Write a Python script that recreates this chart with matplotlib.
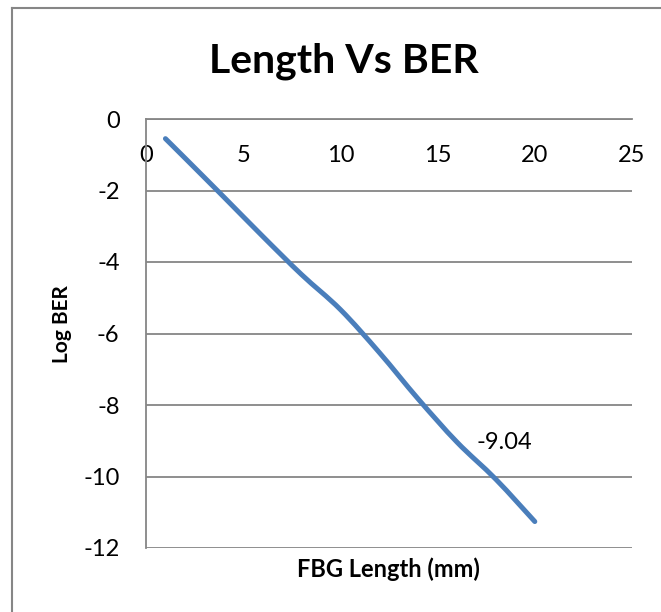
import numpy as np
import matplotlib.pyplot as plt
from matplotlib.lines import Line2D
from matplotlib.path import Path
from matplotlib.patches import PathPatch

# FBG length (mm) vs log BER
length_mm = [1, 2, 4, 6, 8, 10, 12, 14, 16, 18, 20]
log_ber = [-0.55, -1.09, -2.18, -3.28, -4.35, -5.33, -6.53, -7.83, -9.04, -10.08, -11.26]
label_idx = 8  # the point that carries the "-9.04" data label

x_ticks = [0, 5, 10, 15, 20, 25]
y_ticks = [0, -2, -4, -6, -8, -10, -12]

plt.rcParams['font.family'] = ['Lato', 'DejaVu Sans']

fig = plt.figure(figsize=(6.61, 6.12), dpi=100)
ax = fig.add_axes([146 / 661, 1 - 548 / 612, (632 - 146) / 661, (548 - 119) / 612])

grid_col = '#868686'


def smooth_path(xs, ys):
    # Excel style "smoothed line": cubic bezier through every point
    p = np.column_stack([xs, ys]).astype(float)
    n = len(p)
    verts = [p[0]]
    codes = [Path.MOVETO]
    for i in range(n - 1):
        p0 = p[i - 1] if i > 0 else p[i]
        p3 = p[i + 2] if i + 2 < n else p[i + 1]
        c1 = p[i] + (p[i + 1] - p0) / 6.0
        c2 = p[i + 1] - (p3 - p[i]) / 6.0
        verts += [c1, c2, p[i + 1]]
        codes += [Path.CURVE4] * 3
    return Path(verts, codes)


ax.add_patch(PathPatch(smooth_path(length_mm, log_ber), facecolor='none', edgecolor='#4A7EBB',
                       linewidth=3.6, capstyle='round', joinstyle='round', zorder=3))

ax.set_xlim(0, 25)
ax.set_ylim(-12, 0)
ax.set_xticks(x_ticks)
ax.set_yticks(y_ticks)
ax.set_yticklabels([str(v) for v in y_ticks])

# horizontal grid lines
for v in y_ticks:
    ax.axhline(v, color=grid_col, linewidth=1.3, zorder=1)

for s in ['top', 'right']:
    ax.spines[s].set_visible(False)
ax.spines['bottom'].set_position(('data', 0))
ax.spines['bottom'].set_color(grid_col)
ax.spines['bottom'].set_linewidth(1.3)
ax.spines['left'].set_color(grid_col)
ax.spines['left'].set_linewidth(1.3)

ax.tick_params(axis='x', length=0, pad=19, labelsize=17)
ax.tick_params(axis='y', length=0, pad=19, labelsize=17)

# data label
ax.annotate('%.2f' % log_ber[label_idx], (length_mm[label_idx], log_ber[label_idx]),
            xytext=(14, 0), textcoords='offset points', ha='left', va='center', fontsize=17)

fig.text(344 / 661, 1 - 72 / 612, 'Length Vs BER', ha='center', va='baseline',
         fontsize=29.5, fontweight='bold')
fig.text(388 / 661, 1 - 577 / 612, 'FBG Length (mm)', ha='center', va='baseline',
         fontsize=17, fontweight='bold')
fig.text(62 / 661, 1 - 324 / 612, 'Log BER', ha='center', va='center', rotation=90,
         fontsize=15, fontweight='bold')

# chart border (left and top edges visible in the crop)
fig.add_artist(Line2D([11.5 / 661, 11.5 / 661], [0, 1 - 7.5 / 612], transform=fig.transFigure,
                      color=grid_col, linewidth=1.5))
fig.add_artist(Line2D([11.5 / 661, 1], [1 - 7.5 / 612, 1 - 7.5 / 612], transform=fig.transFigure,
                      color=grid_col, linewidth=1.5))

fig.savefig('out.png', dpi=100)
